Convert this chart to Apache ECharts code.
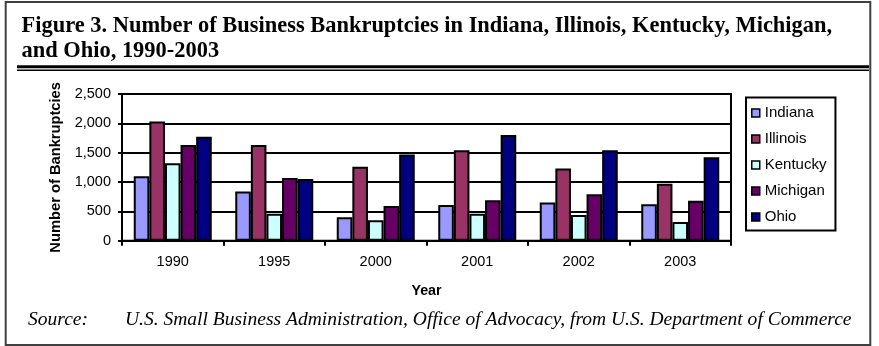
<!DOCTYPE html>
<html><head><meta charset="utf-8">
<script src="https://cdn.jsdelivr.net/npm/echarts@6/dist/echarts.min.js"></script>
<style>html,body{margin:0;padding:0;background:#fff}#c{width:879px;height:346px}</style>
</head><body><div id="c"></div>
<script>
var years = ['1990', '1995', '2000', '2001', '2002', '2003'];
var seriesNames = ['Indiana', 'Illinois', 'Kentucky', 'Michigan', 'Ohio'];
var indiana  = [1100, 840, 400, 610, 650, 620];
var illinois = [2030, 1630, 1260, 1540, 1230, 970];
var kentucky = [1320, 460, 350, 460, 440, 320];
var michigan = [1630, 1070, 590, 690, 790, 680];
var ohio     = [1770, 1050, 1470, 1800, 1540, 1420];
var yTicks = [0, 500, 1000, 1500, 2000, 2500];

var colors = ['#9999FF', '#993366', '#CCFFFF', '#660066', '#000080'];
var values = [indiana, illinois, kentucky, michigan, ohio];

var titleLine1 = 'Figure 3. Number of Business Bankruptcies in Indiana, Illinois, Kentucky, Michigan,';
var titleLine2 = 'and Ohio, 1990-2003';
var sourceLabel = 'Source:';
var sourceText = 'U.S. Small Business Administration, Office of Advocacy, from U.S. Department of Commerce';

var cv = document.createElement('canvas').getContext('2d');
function fit(text, font, target) {
  cv.font = font.replace('SIZE', '100px');
  return 100 * target / cv.measureText(text).width;
}
var serif = '"Liberation Serif", "Times New Roman", serif';
var titleSize = fit(titleLine1, 'bold SIZE ' + serif, 811);
var srcSize = fit(sourceText, 'italic SIZE ' + serif, 727);

var chart = echarts.init(document.getElementById('c'), null, {renderer: 'canvas'});
var series = seriesNames.map(function (n, i) {
  return {
    name: n, type: 'bar', data: values[i], barWidth: 15.6, barGap: '0%',
    itemStyle: {color: colors[i], borderColor: '#000', borderWidth: 2},
    emphasis: {disabled: true}
  };
});

chart.setOption({
  animation: false,
  textStyle: {fontFamily: '"Liberation Sans", Arial, sans-serif', color: '#000'},
  grid: {left: 122, right: 148, top: 94, bottom: 105.3, show: true, borderColor: '#000', borderWidth: 2, containLabel: false},
  xAxis: {
    type: 'category', data: years,
    axisLine: {lineStyle: {color: '#000', width: 2}},
    axisTick: {show: true, length: 5, lineStyle: {color: '#000', width: 2}},
    axisLabel: {fontSize: 14.5, color: '#000', margin: 14},
    name: 'Year', nameLocation: 'middle', nameGap: 43,
    nameTextStyle: {fontSize: 14.3, fontWeight: 'bold', color: '#000'}
  },
  yAxis: {
    type: 'value', min: 0, max: 2500, interval: 500,
    axisLine: {show: true, lineStyle: {color: '#000', width: 2}},
    axisTick: {show: true, length: 4, lineStyle: {color: '#000', width: 2}},
    splitLine: {lineStyle: {color: '#000', width: 2}},
    axisLabel: {fontSize: 14.5, color: '#000', margin: 11,
      formatter: function (v) { return yTicks.indexOf(v) >= 0 ? v.toLocaleString('en-US') : ''; }},
    name: 'Number of Bankruptcies', nameLocation: 'middle', nameGap: 57, nameRotate: 90,
    nameTextStyle: {fontSize: 14.7, fontWeight: 'bold', color: '#000'}
  },
  legend: {
    orient: 'vertical', left: 746, top: 97.5,
    data: seriesNames, icon: 'rect', itemWidth: 8, itemHeight: 8, itemGap: 11,
    padding: [8, 9, 6, 5],
    borderColor: '#000', borderWidth: 2, backgroundColor: '#fff',
    itemStyle: {borderColor: '#000', borderWidth: 1.5},
    textStyle: {fontSize: 15, color: '#000', lineHeight: 14.5},
    selectedMode: false
  },
  graphic: [
    {type: 'rect', silent: true, shape: {x: 5.7, y: 2, width: 864.6, height: 343}, style: {fill: 'none', stroke: '#404040', lineWidth: 2}},
    {type: 'text', silent: true, x: 21.5, y: 26, style: {text: titleLine1, font: 'bold ' + titleSize.toFixed(2) + 'px ' + serif, fill: '#000', verticalAlign: 'middle'}},
    {type: 'text', silent: true, x: 21.5, y: 51, style: {text: titleLine2, font: 'bold ' + titleSize.toFixed(2) + 'px ' + serif, fill: '#000', verticalAlign: 'middle'}},
    {type: 'line', silent: true, shape: {x1: 17, y1: 66.8, x2: 869, y2: 66.8}, style: {stroke: '#000', lineWidth: 3}},
    {type: 'line', silent: true, shape: {x1: 17, y1: 70.2, x2: 869, y2: 70.2}, style: {stroke: '#000', lineWidth: 1.5}},
    {type: 'text', silent: true, x: 28, y: 320, style: {text: sourceLabel, font: 'italic ' + srcSize.toFixed(2) + 'px ' + serif, fill: '#000', verticalAlign: 'middle'}},
    {type: 'text', silent: true, x: 125, y: 320, style: {text: sourceText, font: 'italic ' + srcSize.toFixed(2) + 'px ' + serif, fill: '#000', verticalAlign: 'middle'}}
  ],
  series: series
});
</script></body></html>
